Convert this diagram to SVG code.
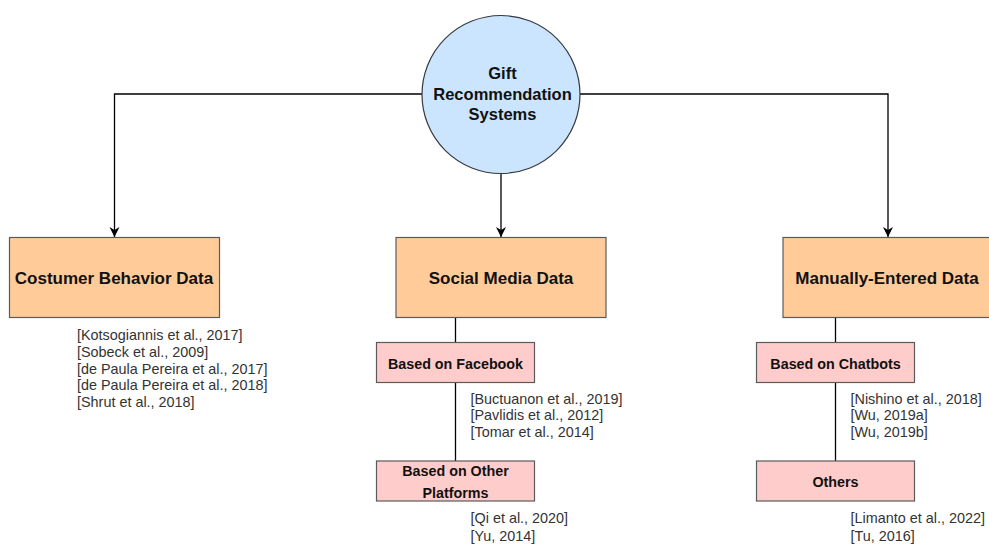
<svg xmlns="http://www.w3.org/2000/svg" width="989" height="546" viewBox="0 0 989 546">
  <style>
    .bg { fill: #ffffff; }
    .root { fill: #cce5ff; stroke: #36393d; stroke-width: 1.2; }
    .cat { fill: #ffcc99; stroke: #5a5a5a; stroke-width: 1.2; }
    .sub { fill: #ffcccc; stroke: #5a5a5a; stroke-width: 1.2; }
    .edge { fill: none; stroke: #000000; stroke-width: 1.3; }
    .title { font-family: "Liberation Sans", Arial, sans-serif; font-weight: bold; fill: #111111; text-anchor: middle; }
    .t-root { font-size: 16.5px; }
    .t-cat { font-size: 17px; }
    .t-sub { font-size: 14.3px; }
    .ref { font-family: "Liberation Sans", Arial, sans-serif; font-size: 14.4px; fill: #333333; }
  </style>
  <defs>
    <marker id="arrow" viewBox="0 0 10 12" refX="10" refY="6" markerWidth="10" markerHeight="12" markerUnits="userSpaceOnUse" orient="auto">
      <path d="M0,1 L10,6 L0,11 L3,6 Z" fill="#000000"/>
    </marker>
  </defs>

  <rect class="bg" x="0" y="0" width="989" height="546"/>

  <!-- connectors -->
  <g id="connectors">
    <path class="edge" d="M422,94 H114.5 V237" marker-end="url(#arrow)"/>
    <path class="edge" d="M501,173 V237" marker-end="url(#arrow)"/>
    <path class="edge" d="M580,94 H888 V237" marker-end="url(#arrow)"/>
    <path class="edge" d="M455.5,317 V343"/>
    <path class="edge" d="M455.5,382.5 V461"/>
    <path class="edge" d="M835.5,317 V343"/>
    <path class="edge" d="M835.5,382.5 V461"/>
  </g>

  <!-- root -->
  <g id="gift-recommendation-systems">
    <circle class="root" cx="501" cy="94.5" r="79"/>
    <text class="title t-root" x="502.5" y="79">Gift</text>
    <text class="title t-root" x="502.5" y="100">Recommendation</text>
    <text class="title t-root" x="502.5" y="120">Systems</text>
  </g>

  <!-- categories -->
  <g id="costumer-behavior-data">
    <rect class="cat" x="9.5" y="237.5" width="210" height="80"/>
    <text class="title t-cat" x="114" y="283.5">Costumer Behavior Data</text>
  </g>
  <g id="social-media-data">
    <rect class="cat" x="396" y="237.5" width="210" height="80"/>
    <text class="title t-cat" x="501" y="283.5">Social Media Data</text>
  </g>
  <g id="manually-entered-data">
    <rect class="cat" x="783" y="237.5" width="210" height="80"/>
    <text class="title t-cat" x="887" y="283.5">Manually-Entered Data</text>
  </g>

  <!-- sub-categories -->
  <g id="based-on-facebook">
    <rect class="sub" x="376.5" y="342.5" width="158" height="40"/>
    <text class="title t-sub" x="455.5" y="368.5">Based on Facebook</text>
  </g>
  <g id="based-on-other-platforms">
    <rect class="sub" x="376.5" y="461" width="158" height="40"/>
    <text class="title t-sub" x="455.5" y="476">Based on Other</text>
    <text class="title t-sub" x="455.5" y="497.5">Platforms</text>
  </g>
  <g id="based-on-chatbots">
    <rect class="sub" x="756.5" y="342.5" width="158" height="40"/>
    <text class="title t-sub" x="835.5" y="368.5">Based on Chatbots</text>
  </g>
  <g id="others">
    <rect class="sub" x="756.5" y="461" width="158" height="40"/>
    <text class="title t-sub" x="835.5" y="486.5">Others</text>
  </g>

  <!-- references -->
  <g id="refs-costumer-behavior">
    <text class="ref" x="77" y="340">[Kotsogiannis et al., 2017]</text>
    <text class="ref" x="77" y="357">[Sobeck et al., 2009]</text>
    <text class="ref" x="77" y="373.5">[de Paula Pereira et al., 2017]</text>
    <text class="ref" x="77" y="390">[de Paula Pereira et al., 2018]</text>
    <text class="ref" x="77" y="407">[Shrut et al., 2018]</text>
  </g>
  <g id="refs-facebook">
    <text class="ref" x="470.5" y="403.5">[Buctuanon et al., 2019]</text>
    <text class="ref" x="470.5" y="420">[Pavlidis et al., 2012]</text>
    <text class="ref" x="470.5" y="437">[Tomar et al., 2014]</text>
  </g>
  <g id="refs-other-platforms">
    <text class="ref" x="470.5" y="522.5">[Qi et al., 2020]</text>
    <text class="ref" x="470.5" y="541">[Yu, 2014]</text>
  </g>
  <g id="refs-chatbots">
    <text class="ref" x="850.5" y="403.5">[Nishino et al., 2018]</text>
    <text class="ref" x="850.5" y="420">[Wu, 2019a]</text>
    <text class="ref" x="850.5" y="437">[Wu, 2019b]</text>
  </g>
  <g id="refs-others">
    <text class="ref" x="850.5" y="522.5">[Limanto et al., 2022]</text>
    <text class="ref" x="850.5" y="541">[Tu, 2016]</text>
  </g>
</svg>
